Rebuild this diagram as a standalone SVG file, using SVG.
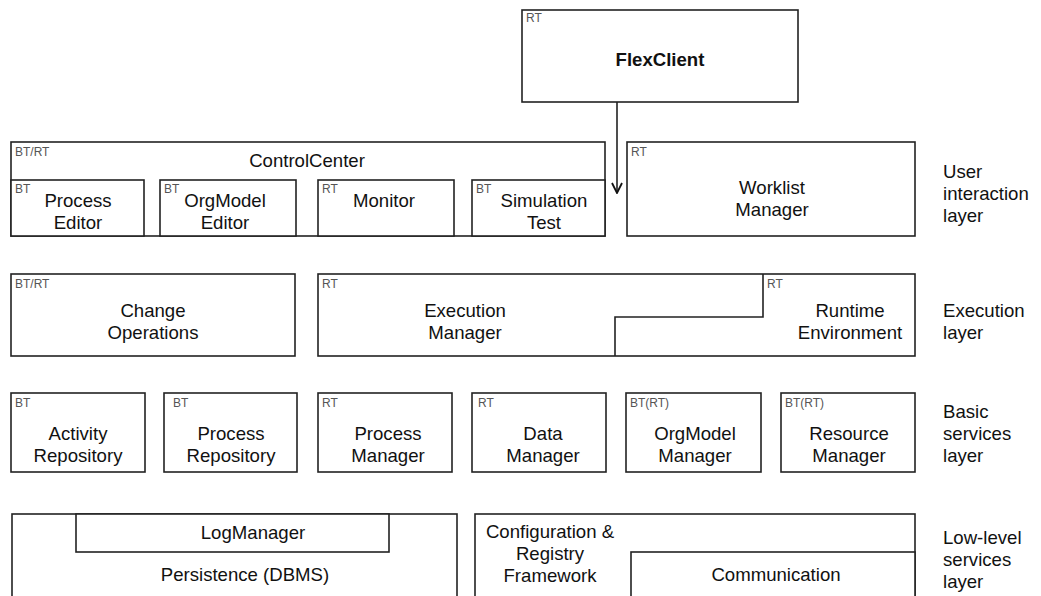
<svg xmlns="http://www.w3.org/2000/svg" width="1041" height="596" viewBox="0 0 1041 596">
  <style>
    .box { fill: #ffffff; stroke: #222222; stroke-width: 1.6; }
    .ln { fill: none; stroke: #222222; stroke-width: 1.6; }
    .lbl { font-family: "Liberation Sans", Arial, sans-serif; font-size: 18.6px; fill: #111111; text-anchor: middle; }
    .tag { font-family: "Liberation Sans", Arial, sans-serif; font-size: 12px; fill: #555555; }
    .layer { font-family: "Liberation Sans", Arial, sans-serif; font-size: 18.6px; fill: #111111; }
  </style>
  <defs>
    <marker id="arrow" viewBox="0 0 12 12" refX="11" refY="6" markerWidth="12" markerHeight="12" markerUnits="userSpaceOnUse" orient="auto">
      <path d="M1,1 L11,6 L1,11" fill="none" stroke="#111111" stroke-width="1.8"/>
    </marker>
  </defs>
  <rect width="1041" height="596" fill="#ffffff"/>

  <!-- FlexClient -->
  <g id="flexclient">
    <rect class="box" x="522" y="10" width="276" height="92"/>
    <text class="tag" x="526" y="22">RT</text>
    <text class="lbl" x="660" y="66" font-weight="bold">FlexClient</text>
  </g>

  <!-- User interaction layer -->
  <g id="controlcenter">
    <rect class="box" x="11" y="142" width="594" height="94"/>
    <text class="tag" x="15" y="156">BT/RT</text>
    <text class="lbl" x="307" y="167">ControlCenter</text>
  </g>
  <g id="process-editor">
    <rect class="box" x="11" y="180" width="133" height="56"/>
    <text class="tag" x="15" y="193">BT</text>
    <text class="lbl" x="78" y="207">Process</text>
    <text class="lbl" x="78" y="229">Editor</text>
  </g>
  <g id="orgmodel-editor">
    <rect class="box" x="160" y="180" width="136" height="56"/>
    <text class="tag" x="164" y="193">BT</text>
    <text class="lbl" x="225" y="207">OrgModel</text>
    <text class="lbl" x="225" y="229">Editor</text>
  </g>
  <g id="monitor">
    <rect class="box" x="318" y="180" width="136" height="56"/>
    <text class="tag" x="322" y="193">RT</text>
    <text class="lbl" x="384" y="207">Monitor</text>
  </g>
  <g id="simulation-test">
    <rect class="box" x="472" y="180" width="133" height="56"/>
    <text class="tag" x="476" y="193">BT</text>
    <text class="lbl" x="544" y="207">Simulation</text>
    <text class="lbl" x="544" y="229">Test</text>
  </g>
  <g id="worklist-manager">
    <rect class="box" x="627" y="142" width="288" height="94"/>
    <text class="tag" x="631" y="156">RT</text>
    <text class="lbl" x="772" y="194">Worklist</text>
    <text class="lbl" x="772" y="216">Manager</text>
  </g>

  <!-- Execution layer -->
  <g id="change-operations">
    <rect class="box" x="11" y="274" width="284" height="82"/>
    <text class="tag" x="15" y="288">BT/RT</text>
    <text class="lbl" x="153" y="317">Change</text>
    <text class="lbl" x="153" y="339">Operations</text>
  </g>
  <g id="execution-manager">
    <rect class="box" x="318" y="274" width="597" height="82"/>
    <text class="tag" x="322" y="288">RT</text>
    <text class="lbl" x="465" y="317">Execution</text>
    <text class="lbl" x="465" y="339">Manager</text>
  </g>
  <g id="runtime-environment">
    <path class="ln" d="M763,274 V317 H615 V356"/>
    <text class="tag" x="767" y="288">RT</text>
    <text class="lbl" x="850" y="317">Runtime</text>
    <text class="lbl" x="850" y="339">Environment</text>
  </g>

  <!-- Basic services layer -->
  <g id="activity-repository">
    <rect class="box" x="11" y="393" width="134" height="79"/>
    <text class="tag" x="15" y="407">BT</text>
    <text class="lbl" x="78" y="440">Activity</text>
    <text class="lbl" x="78" y="462">Repository</text>
  </g>
  <g id="process-repository">
    <rect class="box" x="164" y="393" width="133" height="79"/>
    <text class="tag" x="173" y="407">BT</text>
    <text class="lbl" x="231" y="440">Process</text>
    <text class="lbl" x="231" y="462">Repository</text>
  </g>
  <g id="process-manager">
    <rect class="box" x="318" y="393" width="134" height="79"/>
    <text class="tag" x="322" y="407">RT</text>
    <text class="lbl" x="388" y="440">Process</text>
    <text class="lbl" x="388" y="462">Manager</text>
  </g>
  <g id="data-manager">
    <rect class="box" x="472" y="393" width="134" height="79"/>
    <text class="tag" x="478" y="407">RT</text>
    <text class="lbl" x="543" y="440">Data</text>
    <text class="lbl" x="543" y="462">Manager</text>
  </g>
  <g id="orgmodel-manager">
    <rect class="box" x="626" y="393" width="135" height="79"/>
    <text class="tag" x="630" y="407">BT(RT)</text>
    <text class="lbl" x="695" y="440">OrgModel</text>
    <text class="lbl" x="695" y="462">Manager</text>
  </g>
  <g id="resource-manager">
    <rect class="box" x="781" y="393" width="134" height="79"/>
    <text class="tag" x="785" y="407">BT(RT)</text>
    <text class="lbl" x="849" y="440">Resource</text>
    <text class="lbl" x="849" y="462">Manager</text>
  </g>

  <!-- Low-level services layer -->
  <g id="persistence">
    <rect class="box" x="12" y="514" width="445" height="90"/>
    <text class="lbl" x="245" y="581">Persistence (DBMS)</text>
  </g>
  <g id="logmanager">
    <rect class="box" x="76" y="514" width="313" height="38"/>
    <text class="lbl" x="253" y="539">LogManager</text>
  </g>
  <g id="configuration-registry">
    <rect class="box" x="475" y="514" width="440" height="90"/>
    <text class="lbl" x="550" y="538">Configuration &amp;</text>
    <text class="lbl" x="550" y="560">Registry</text>
    <text class="lbl" x="550" y="582">Framework</text>
  </g>
  <g id="communication">
    <rect class="box" x="631" y="552" width="284" height="52"/>
    <text class="lbl" x="776" y="581">Communication</text>
  </g>

  <!-- Layer captions -->
  <g id="layer-labels">
    <text class="layer" x="943" y="178">User</text>
    <text class="layer" x="943" y="200">interaction</text>
    <text class="layer" x="943" y="222">layer</text>
    <text class="layer" x="943" y="317">Execution</text>
    <text class="layer" x="943" y="339">layer</text>
    <text class="layer" x="943" y="418">Basic</text>
    <text class="layer" x="943" y="440">services</text>
    <text class="layer" x="943" y="462">layer</text>
    <text class="layer" x="943" y="544">Low-level</text>
    <text class="layer" x="943" y="566">services</text>
    <text class="layer" x="943" y="588">layer</text>
  </g>

  <!-- Connectors -->
  <g id="connectors">
    <line class="ln" x1="617" y1="102" x2="617" y2="193" stroke="#111111" marker-end="url(#arrow)"/>
  </g>
</svg>
